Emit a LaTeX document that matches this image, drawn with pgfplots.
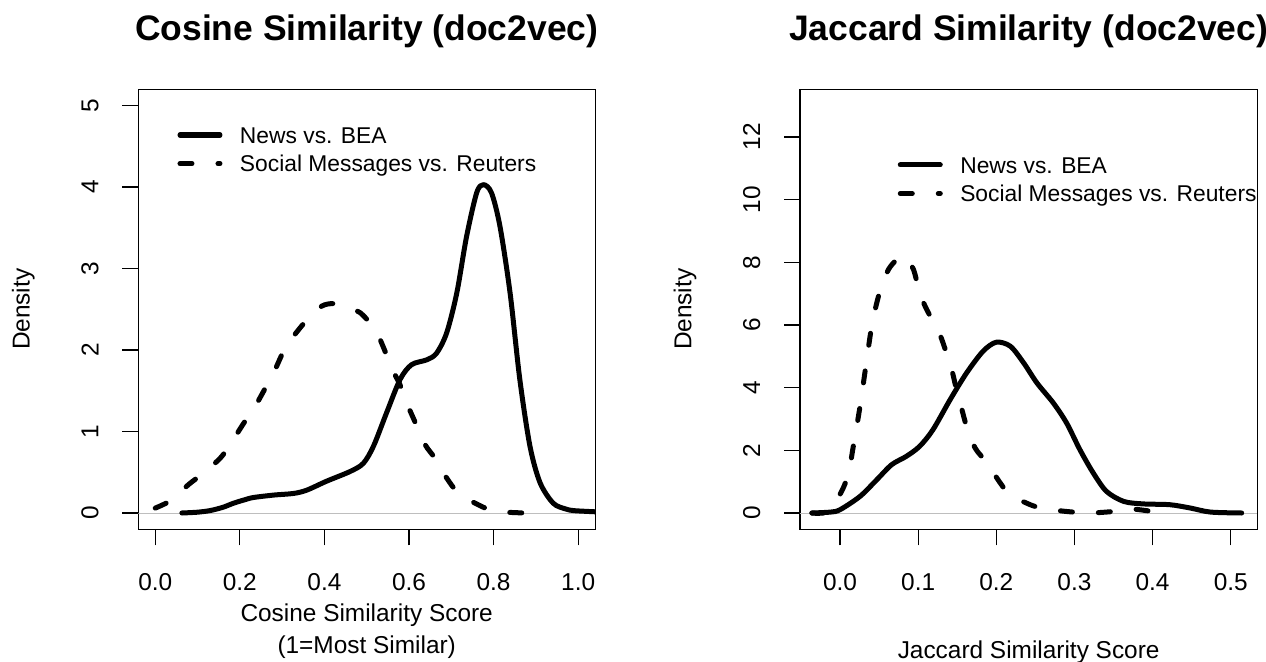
\documentclass[border=0pt]{standalone}
\usepackage{pgfplots}
\pgfplotsset{compat=1.18}
\usepackage{fontspec}
\setmainfont{Liberation Sans}

\definecolor{zeroline}{RGB}{190,190,190}

\pgfplotsset{
  densplot/.style={
    scale only axis,
    height=220bp,
    axis line style={line width=0.6bp},
    every tick/.style={line width=0.6bp, black},
    tick align=outside,
    major tick length=8bp,
    xtick pos=left, ytick pos=left,
    minor tick num=0,
    tick label style={font=\fontsize{12.25}{14}\selectfont},
    /pgf/number format/assume math mode=true,
    xticklabel style={anchor=center, yshift=-18.2bp},
    yticklabel style={xshift=-16.15bp, rotate=90, anchor=center},
    label style={font=\fontsize{12.25}{16}\selectfont},
    every axis title shift=0pt,
    title style={anchor=center, font=\bfseries\fontsize{17.8}{20}\selectfont},
    ylabel={Density},
    legend style={draw=none, fill=none, inner sep=0pt, outer sep=0pt,
      anchor=north west, row sep=6.1bp, column sep=8.75bp,
      font=\fontsize{11.45}{13}\selectfont,
      nodes={inner sep=0pt, anchor=west, text height=8.2bp, text depth=0pt}},
    legend image code/.code={\draw[##1] (0bp,0bp) -- (20bp,0bp);},
  },
  news/.style={black, line width=2.5bp, line cap=round, line join=round, smooth},
  social/.style={black, line width=2.5bp, line cap=round, line join=round,
    dash pattern=on 6bp off 13bp, smooth},
}

\begin{document}
\begin{tikzpicture}
\useasboundingbox (0,0) rectangle (633bp,331bp);

% Cosine similarity densities
\begin{axis}[densplot,
  at={(69.15bp,66.35bp)}, anchor=south west, width=228.4bp,
  xmin=-0.04, xmax=1.04, ymin=-0.2, ymax=5.2,
  xtick={0,0.2,0.4,0.6,0.8,1.0}, ytick={0,1,2,3,4,5},
  xticklabel style={/pgf/number format/.cd, fixed, fixed zerofill, precision=1},
  title={Cosine Similarity (doc2vec)},
  title style={at={(axis description cs:0.5,1.1309)}},
  xlabel={Cosine Similarity Score\\(1=Most Similar)},
  xlabel style={at={(axis description cs:0.5,-0.2318)}, anchor=center, align=center},
  ylabel style={at={(axis description cs:-0.2518,0.5)}, anchor=center},
  legend style={at={(axis description cs:0.0858,0.9148)}},
]
\addplot[zeroline, line width=0.5bp, forget plot] coordinates {(-0.04,0) (1.04,0)};
\addplot[news] coordinates {
  (0.063,0.00) (0.10,0.01) (0.13,0.03) (0.16,0.07) (0.185,0.12) (0.21,0.16)
  (0.232,0.19) (0.28,0.22) (0.327,0.24) (0.358,0.28) (0.405,0.39) (0.461,0.51)
  (0.492,0.61) (0.516,0.82) (0.547,1.23) (0.579,1.64) (0.606,1.82) (0.642,1.88)
  (0.665,1.96) (0.689,2.21) (0.713,2.70) (0.736,3.39) (0.76,3.93) (0.776,4.03)
  (0.795,3.93) (0.815,3.52) (0.839,2.70) (0.862,1.64) (0.886,0.82) (0.91,0.37)
  (0.941,0.12) (0.97,0.05) (0.988,0.03) (1.02,0.02) (1.06,0.01)
};
\addlegendentry{News vs. BEA}
\addplot[social] coordinates {
  (0.0,0.06) (0.039,0.16) (0.079,0.35) (0.114,0.49) (0.154,0.675) (0.177,0.84)
  (0.209,1.10) (0.232,1.27) (0.26,1.53) (0.28,1.72) (0.303,1.98) (0.327,2.17)
  (0.362,2.39) (0.394,2.54) (0.421,2.57) (0.445,2.535) (0.484,2.46) (0.52,2.25)
  (0.539,2.04) (0.559,1.78) (0.579,1.57) (0.598,1.31) (0.614,1.12) (0.638,0.84)
  (0.661,0.675) (0.689,0.43) (0.717,0.245) (0.764,0.10) (0.803,0.02) (0.85,0.005)
  (0.875,0.0)
};
\addlegendentry{Social Messages vs. Reuters}
\end{axis}

% Jaccard similarity densities
\begin{axis}[densplot,
  at={(400bp,66.35bp)}, anchor=south west, width=228.65bp,
  xmin=-0.0512, xmax=0.534, ymin=-0.52, ymax=13.52,
  xtick={0,0.1,0.2,0.3,0.4,0.5}, ytick={0,2,4,6,8,10,12},
  xticklabel style={/pgf/number format/.cd, fixed, fixed zerofill, precision=1},
  title={Jaccard Similarity (doc2vec)},
  title style={at={(axis description cs:0.5,1.1309)}},
  xlabel={Jaccard Similarity Score},
  xlabel style={at={(axis description cs:0.5,-0.28)}, anchor=center},
  ylabel style={at={(axis description cs:-0.2515,0.5)}, anchor=center},
  legend style={at={(axis description cs:0.2138,0.8466)}},
]
\addplot[zeroline, line width=0.5bp, forget plot] coordinates {(-0.0512,0) (0.534,0)};
\addplot[news] coordinates {
  (-0.036,0) (-0.012,0.03) (0.0,0.105) (0.0256,0.53) (0.047,1.06) (0.066,1.54)
  (0.085,1.81) (0.102,2.13) (0.119,2.66) (0.141,3.62) (0.162,4.47) (0.183,5.16)
  (0.2,5.45) (0.218,5.32) (0.235,4.79) (0.252,4.15) (0.273,3.51) (0.29,2.87)
  (0.307,2.02) (0.324,1.28) (0.341,0.69) (0.363,0.37) (0.388,0.29) (0.422,0.265)
  (0.448,0.16) (0.474,0.03) (0.514,0.0)
};
\addlegendentry{News vs. BEA}
\addplot[social] coordinates {
  (-0.036,0) (-0.015,0.05) (0.002,0.69) (0.011,1.28) (0.017,2.13) (0.0256,3.40)
  (0.033,4.68) (0.0405,5.96) (0.047,6.70) (0.053,7.23) (0.062,7.77) (0.0725,8.08)
  (0.083,8.19) (0.094,7.77) (0.102,7.02) (0.111,6.49) (0.126,5.80) (0.134,5.27)
  (0.143,4.57) (0.149,3.94) (0.156,3.30) (0.162,2.76) (0.173,2.07) (0.188,1.60)
  (0.205,0.96) (0.218,0.58) (0.247,0.23) (0.269,0.11) (0.298,0.03) (0.32,0.0)
  (0.35,0.05) (0.371,0.13) (0.401,0.05) (0.427,0.0)
};
\addlegendentry{Social Messages vs. Reuters}
\end{axis}
\end{tikzpicture}
\end{document}
